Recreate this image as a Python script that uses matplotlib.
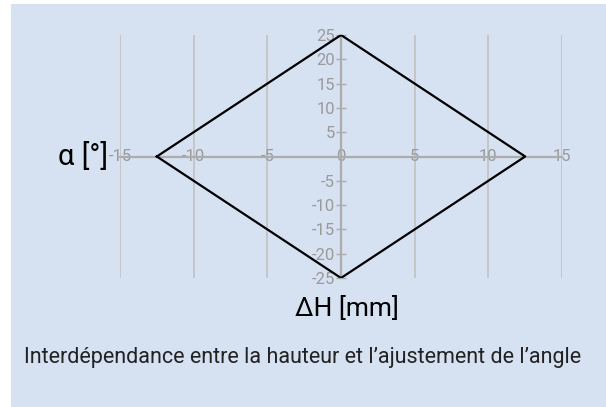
import matplotlib
matplotlib.use('Agg')
import matplotlib.pyplot as plt
from matplotlib.patches import Rectangle

# diamond: height adjustment (mm) vs angle (deg)
delta_h = [-12.5, 0, 12.5, 0, -12.5]
alpha = [0, 25, 0, -25, 0]
x_ticks = [-15, -10, -5, 0, 5, 10, 15]
y_ticks = [-25, -20, -15, -10, -5, 5, 10, 15, 20, 25]

plt.rcParams['font.family'] = ['Roboto', 'DejaVu Sans']

bg = '#d6e1f2'
fig = plt.figure(figsize=(6.06, 4.07), dpi=100)
fig.patch.set_facecolor('white')
fig.patches.append(Rectangle((11 / 606, 0), 1, 1 - 4 / 407, transform=fig.transFigure,
                             facecolor=bg, edgecolor='none', zorder=-10))

ax = fig.add_axes([120 / 606, 1 - 278 / 407, 442 / 606, 243 / 407])
ax.set_facecolor('none')
ax.set_xlim(-15, 15)
ax.set_ylim(-25, 25)

# vertical grid
for x in x_ticks:
    if x != 0:
        ax.axvline(x, color='#c4c4c4', linewidth=1.3, zorder=1)

for side in ['top', 'right']:
    ax.spines[side].set_visible(False)
ax.spines['left'].set_position('zero')
ax.spines['bottom'].set_position('zero')
for side in ['left', 'bottom']:
    ax.spines[side].set_color('#acacac')
    ax.spines[side].set_linewidth(1.6)

ax.plot(delta_h, alpha, color='black', linewidth=1.6, zorder=5)

ax.set_xticks(x_ticks)
ax.set_xticklabels([str(v) for v in x_ticks])
ax.tick_params(axis='x', length=0, pad=0, labelsize=12, labelcolor='#9a9a9a')
for lbl in ax.get_xticklabels():
    lbl.set_verticalalignment('center')

ax.set_yticks(y_ticks)
ax.set_yticklabels([str(v) for v in y_ticks])
ax.tick_params(axis='y', direction='inout', length=7, width=1, color='#acacac',
               pad=1, labelsize=12, labelcolor='#9a9a9a')

fig.text(58 / 606, 1 - 157 / 407, 'α [°]', fontsize=21, ha='left', va='center')
fig.text(347 / 606, 1 - 308 / 407, 'ΔH [mm]', fontsize=19, ha='center', va='center')
fig.text(303 / 606, 1 - 358 / 407, 'Interdépendance entre la hauteur et l\u2019ajustement de l\u2019angle',
         fontsize=15.5, ha='center', va='center', color='#222222')

fig.savefig('out.png', dpi=100)
